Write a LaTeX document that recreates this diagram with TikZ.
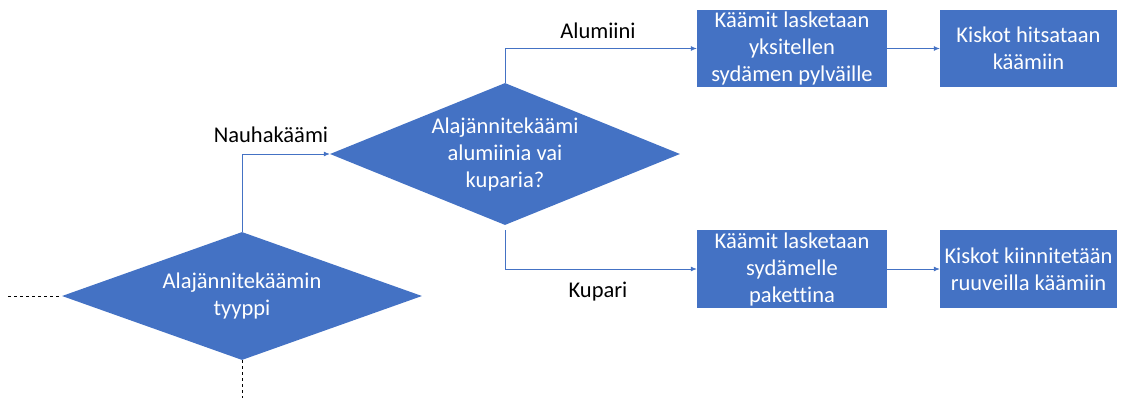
\documentclass[tikz,border=0pt]{standalone}
\usepackage{fontspec}
\setmainfont[RawFeature=-liga]{Carlito}
\usetikzlibrary{shapes.geometric,arrows.meta}
\definecolor{blu}{HTML}{4472C4}
\tikzset{
  every node/.style={font=\fontsize{22.5}{27}\selectfont},
  dia/.style={diamond,fill=blu,text=white,inner sep=0pt,align=center},
  boxnode/.style={rectangle,fill=blu,text=white,inner sep=0pt,align=center},
  conn/.style={draw=blu,line width=0.8pt,-{Latex[length=6pt,width=5pt]}},
  dashline/.style={draw=black,dashed,line width=0.8pt},
  lbl/.style={text=black}
}
\begin{document}
\begin{tikzpicture}[x=1pt,y=1pt]
\useasboundingbox (0,0) rectangle (1123,400);
% decisions
\node[dia,aspect=2.8,minimum width=360pt,minimum height=128pt] (d1) at (242,104) {Alajännitekäämin\\tyyppi};
\node[dia,aspect=2.46,minimum width=350pt,minimum height=142pt] (d2) at (505,246) {Alajännitekäämi\\alumiinia vai\\kuparia?};
% process boxes
\node[boxnode,minimum width=190pt,minimum height=77pt] (b1) at (792,351.5) {Käämit lasketaan\\yksitellen\\sydämen pylväille};
\node[boxnode,minimum width=177pt,minimum height=77pt] (b2) at (1028.5,351.5) {Kiskot hitsataan\\käämiin};
\node[boxnode,minimum width=190pt,minimum height=78pt] (b3) at (792,131) {Käämit lasketaan\\sydämelle\\pakettina};
\node[boxnode,minimum width=177pt,minimum height=78pt] (b4) at (1028.5,131) {Kiskot kiinnitetään\\ruuveilla käämiin};
% incoming / outgoing stubs
\coordinate (inL) at (8,104);
\coordinate (outB) at (242,2);
\draw[dashline] (inL) -- (d1.west);
\draw[dashline] (d1.south) -- (outB);
% connectors
\draw[conn] (d1.north) |- (d2.west);
\draw[conn] (d2.north) |- (b1.west);
\draw[conn] ([yshift=-5pt]d2.south) |- (b3.west);
\draw[conn] (b1) -- (b2);
\draw[conn] (b3) -- (b4);
% branch labels
\node[lbl] (n1) at (271,265) {Nauhakäämi};
\node[lbl] (n2) at (598,369) {Alumiini};
\node[lbl] (n3) at (598,108) {Kupari};
\end{tikzpicture}
\end{document}
